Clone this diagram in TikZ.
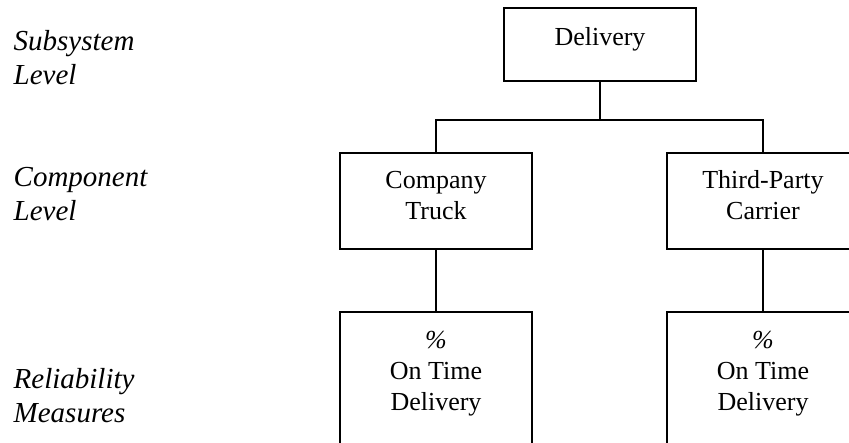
\documentclass[tikz,border=0pt]{standalone}
\usepackage{fontspec}
\setmainfont{Liberation Serif}
\usetikzlibrary{positioning}

\begin{document}
\begin{tikzpicture}[x=1pt,y=-1pt,line width=1.4pt,
	    levelbox/.style= {
	        draw,
	        minimum width=192pt},
	    boxtext/.style= {
	        inner sep=0pt, align=center,
	        font=\fontsize{26}{31}\selectfont},
	    leveltext/.style= {
	        inner sep=0pt, align=left, anchor=north west,
	        font=\fontsize{29}{34}\selectfont\itshape}]

		\clip (0,0) rectangle (849,443);

		% Blocks
		\node [levelbox,minimum height=73pt] (dlv) at (600,44.5) {};
		\node [levelbox,minimum height=96pt] (truck) at (436,201) {};
		\node [levelbox,minimum height=96pt] (third) at (763,201) {};
		\node [levelbox,minimum height=150pt] (ontime1) at (436,387) {};
		\node [levelbox,minimum height=150pt] (ontime2) at (763,387) {};

		% Box texts
		\node [boxtext,below=19pt of dlv.north] (dlvtext) {Delivery};
		\node [boxtext,below=18pt of truck.north] (trucktext) {Company\\Truck};
		\node [boxtext,below=17pt of third.north] (thirdtext) {Third-Party\\Carrier};
		\node [boxtext,below=19pt of ontime1.north] (ontime1text) {{\itshape\%}\\On Time\\Delivery};
		\node [boxtext,below=19pt of ontime2.north] (ontime2text) {{\itshape\%}\\On Time\\Delivery};

		% Lines
		\coordinate (split) at (600,120);
		\draw (dlv.south) -- (split);
		\draw (truck.north) |- (split) -| (third.north);
		\draw (truck.south) -- (ontime1.north);
		\draw (third.south) -- (ontime2.north);

		% Levels
		\node [leveltext] (subsys) at (13,30) {Subsystem\\Level};
		\node [leveltext] (comp) at (13,167) {Component\\Level};
		\node [leveltext] (relmeas) at (13,368) {Reliability\\Measures};

	\end{tikzpicture}
\end{document}
